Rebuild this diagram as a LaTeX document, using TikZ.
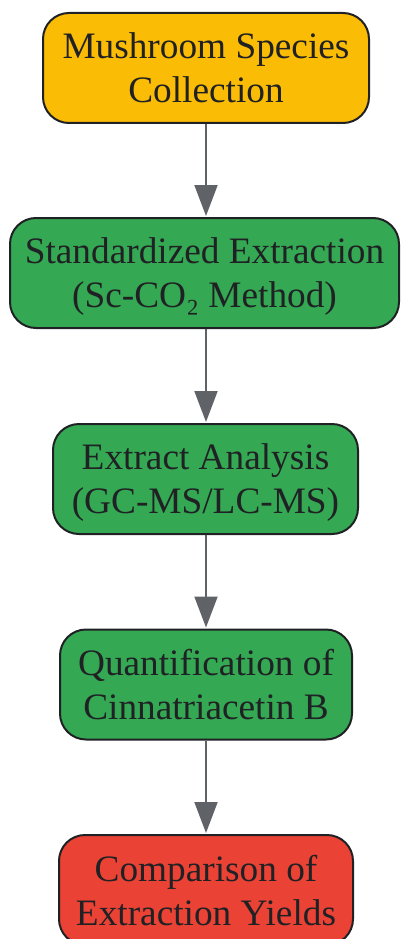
\documentclass[tikz,border=0pt]{standalone}
\usepackage{fontspec}
\setmainfont{Liberation Serif}
\usetikzlibrary{arrows.meta}
\definecolor{cyellow}{HTML}{FBBC05}
\definecolor{cgreen}{HTML}{34A853}
\definecolor{cred}{HTML}{EA4335}
\definecolor{cline}{HTML}{5F6368}
\definecolor{cborder}{HTML}{202124}
\tikzset{
  flowbox/.style={draw=cborder, line width=2pt, rounded corners=26pt, align=center,
    text=cborder, inner sep=0pt, text depth=-7pt,
    font=\fontsize{37.3}{44}\selectfont, minimum height=110pt},
  flowarrow/.style={draw=cline, line width=2pt,
    -{Triangle[length=31pt,width=23pt]}, shorten >=1pt}
}
\begin{document}
\begin{tikzpicture}[x=1pt,y=-1pt]
\useasboundingbox (0,0) rectangle (400,939);
\node[flowbox, fill=cyellow, minimum width=326pt] (a) at (206,68) {Mushroom Species\\Collection};
\node[flowbox, fill=cgreen, minimum width=389pt] (b) at (204.5,273) {Standardized Extraction\\(Sc-CO₂ Method)};
\node[flowbox, fill=cgreen, minimum width=305pt] (c) at (205.5,479) {Extract Analysis\\(GC-MS/LC-MS)};
\node[flowbox, fill=cgreen, minimum width=292pt] (d) at (206,684.5) {Quantification of\\Cinnatriacetin B};
\node[flowbox, fill=cred, minimum width=294pt] (e) at (206,890) {Comparison of\\Extraction Yields};
\coordinate (col) at (206,0);
\draw[flowarrow] (col |- a.south) -- (col |- b.north);
\draw[flowarrow] (col |- b.south) -- (col |- c.north);
\draw[flowarrow] (col |- c.south) -- (col |- d.north);
\draw[flowarrow] (col |- d.south) -- (col |- e.north);
\end{tikzpicture}
\end{document}
